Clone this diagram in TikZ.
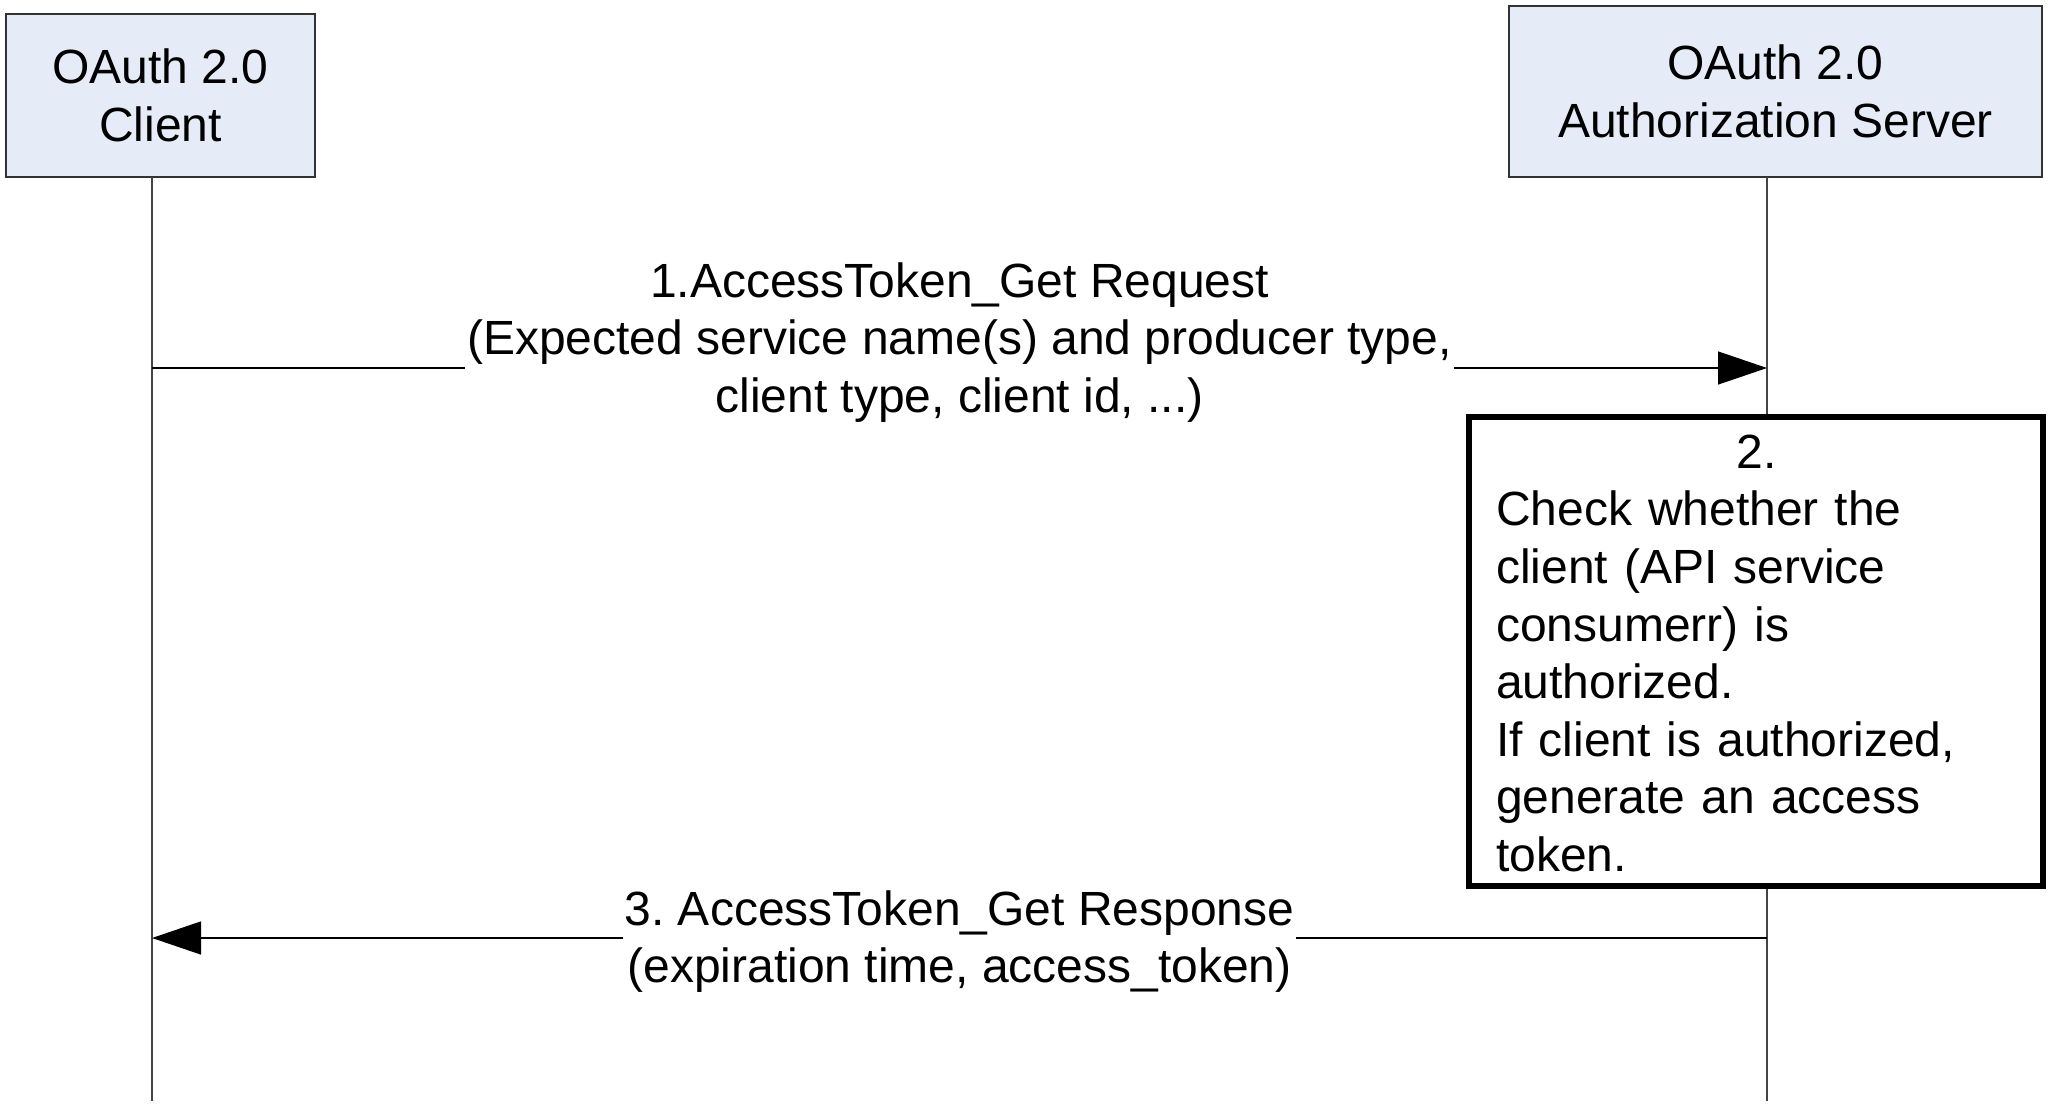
\documentclass[tikz,border=0pt]{standalone}
\usepackage{fontspec}
\setmainfont{Liberation Sans}
\usetikzlibrary{arrows.meta}
\definecolor{boxblue}{RGB}{230,236,247}
\definecolor{edgegrey}{RGB}{51,51,51}
\definecolor{lifegrey}{RGB}{68,68,68}
\frenchspacing
\begin{document}
\begin{tikzpicture}[x=1pt,y=-1pt,
  every node/.style={font=\fontsize{48}{57.6}\selectfont},
  actor/.style={draw=edgegrey, fill=boxblue, line width=1.3pt, align=center, inner sep=0pt},
  lifeline/.style={draw=lifegrey, line width=1.3pt},
  msg/.style={draw=black, line width=1.3pt, -{Triangle[length=49pt,width=33pt]}},
  lbl/.style={fill=white, align=center, inner xsep=2pt, inner ysep=0pt},
  notebox/.style={draw=black, line width=5.5pt, fill=white, inner sep=0pt},
  notetext/.style={anchor=north west, inner sep=0pt, text width=521pt, align=left},
]
\useasboundingbox (0,0) rectangle (2048,1111);
% actors
\node[actor, minimum width=309pt, minimum height=163pt] (client) at (160.5,95.5) {OAuth 2.0\\Client};
\node[actor, minimum width=533pt, minimum height=171pt] (server) at (1775.5,91.5) {OAuth 2.0\\Authorization Server};
% lifeline points
\coordinate (cltop) at (152,177);
\coordinate (clbot) at (152,1101);
\coordinate (svtop) at (1767,177);
\coordinate (svbot) at (1767,1101);
\coordinate (m1c) at (152,368);
\coordinate (m1s) at (1767,368);
\coordinate (m3s) at (1767,938);
\coordinate (m3c) at (152,938);
\draw[lifeline] (cltop) -- (clbot);
\draw[lifeline] (svtop) -- (svbot);
% step 2 box
\node[notebox, minimum width=574pt, minimum height=469pt] (check) at (1756,651.5) {};
\node[notetext] (checktxt) at (1496,427.7) {\hbox to\hsize{\hfil\strut 2.\hfil}\\
\strut Check whether the\\
\strut client (API service\\
\strut consumerr) is\\
\strut authorized.\\
\strut If client is authorized,\\
\strut generate an access\\
\strut token.};
% messages
\draw[msg] (m1c) -- node[lbl, yshift=24.9pt] (lbl1) {\strut 1.AccessToken\_Get Request\\\strut (Expected service name(s) and producer type,\\\strut client type, client id, ...)} (m1s);
\draw[msg] (m3s) -- node[lbl, yshift=-4.3pt] (lbl3) {\strut 3. AccessToken\_Get Response\\\strut (expiration time, access\_token)} (m3c);
\end{tikzpicture}
\end{document}
